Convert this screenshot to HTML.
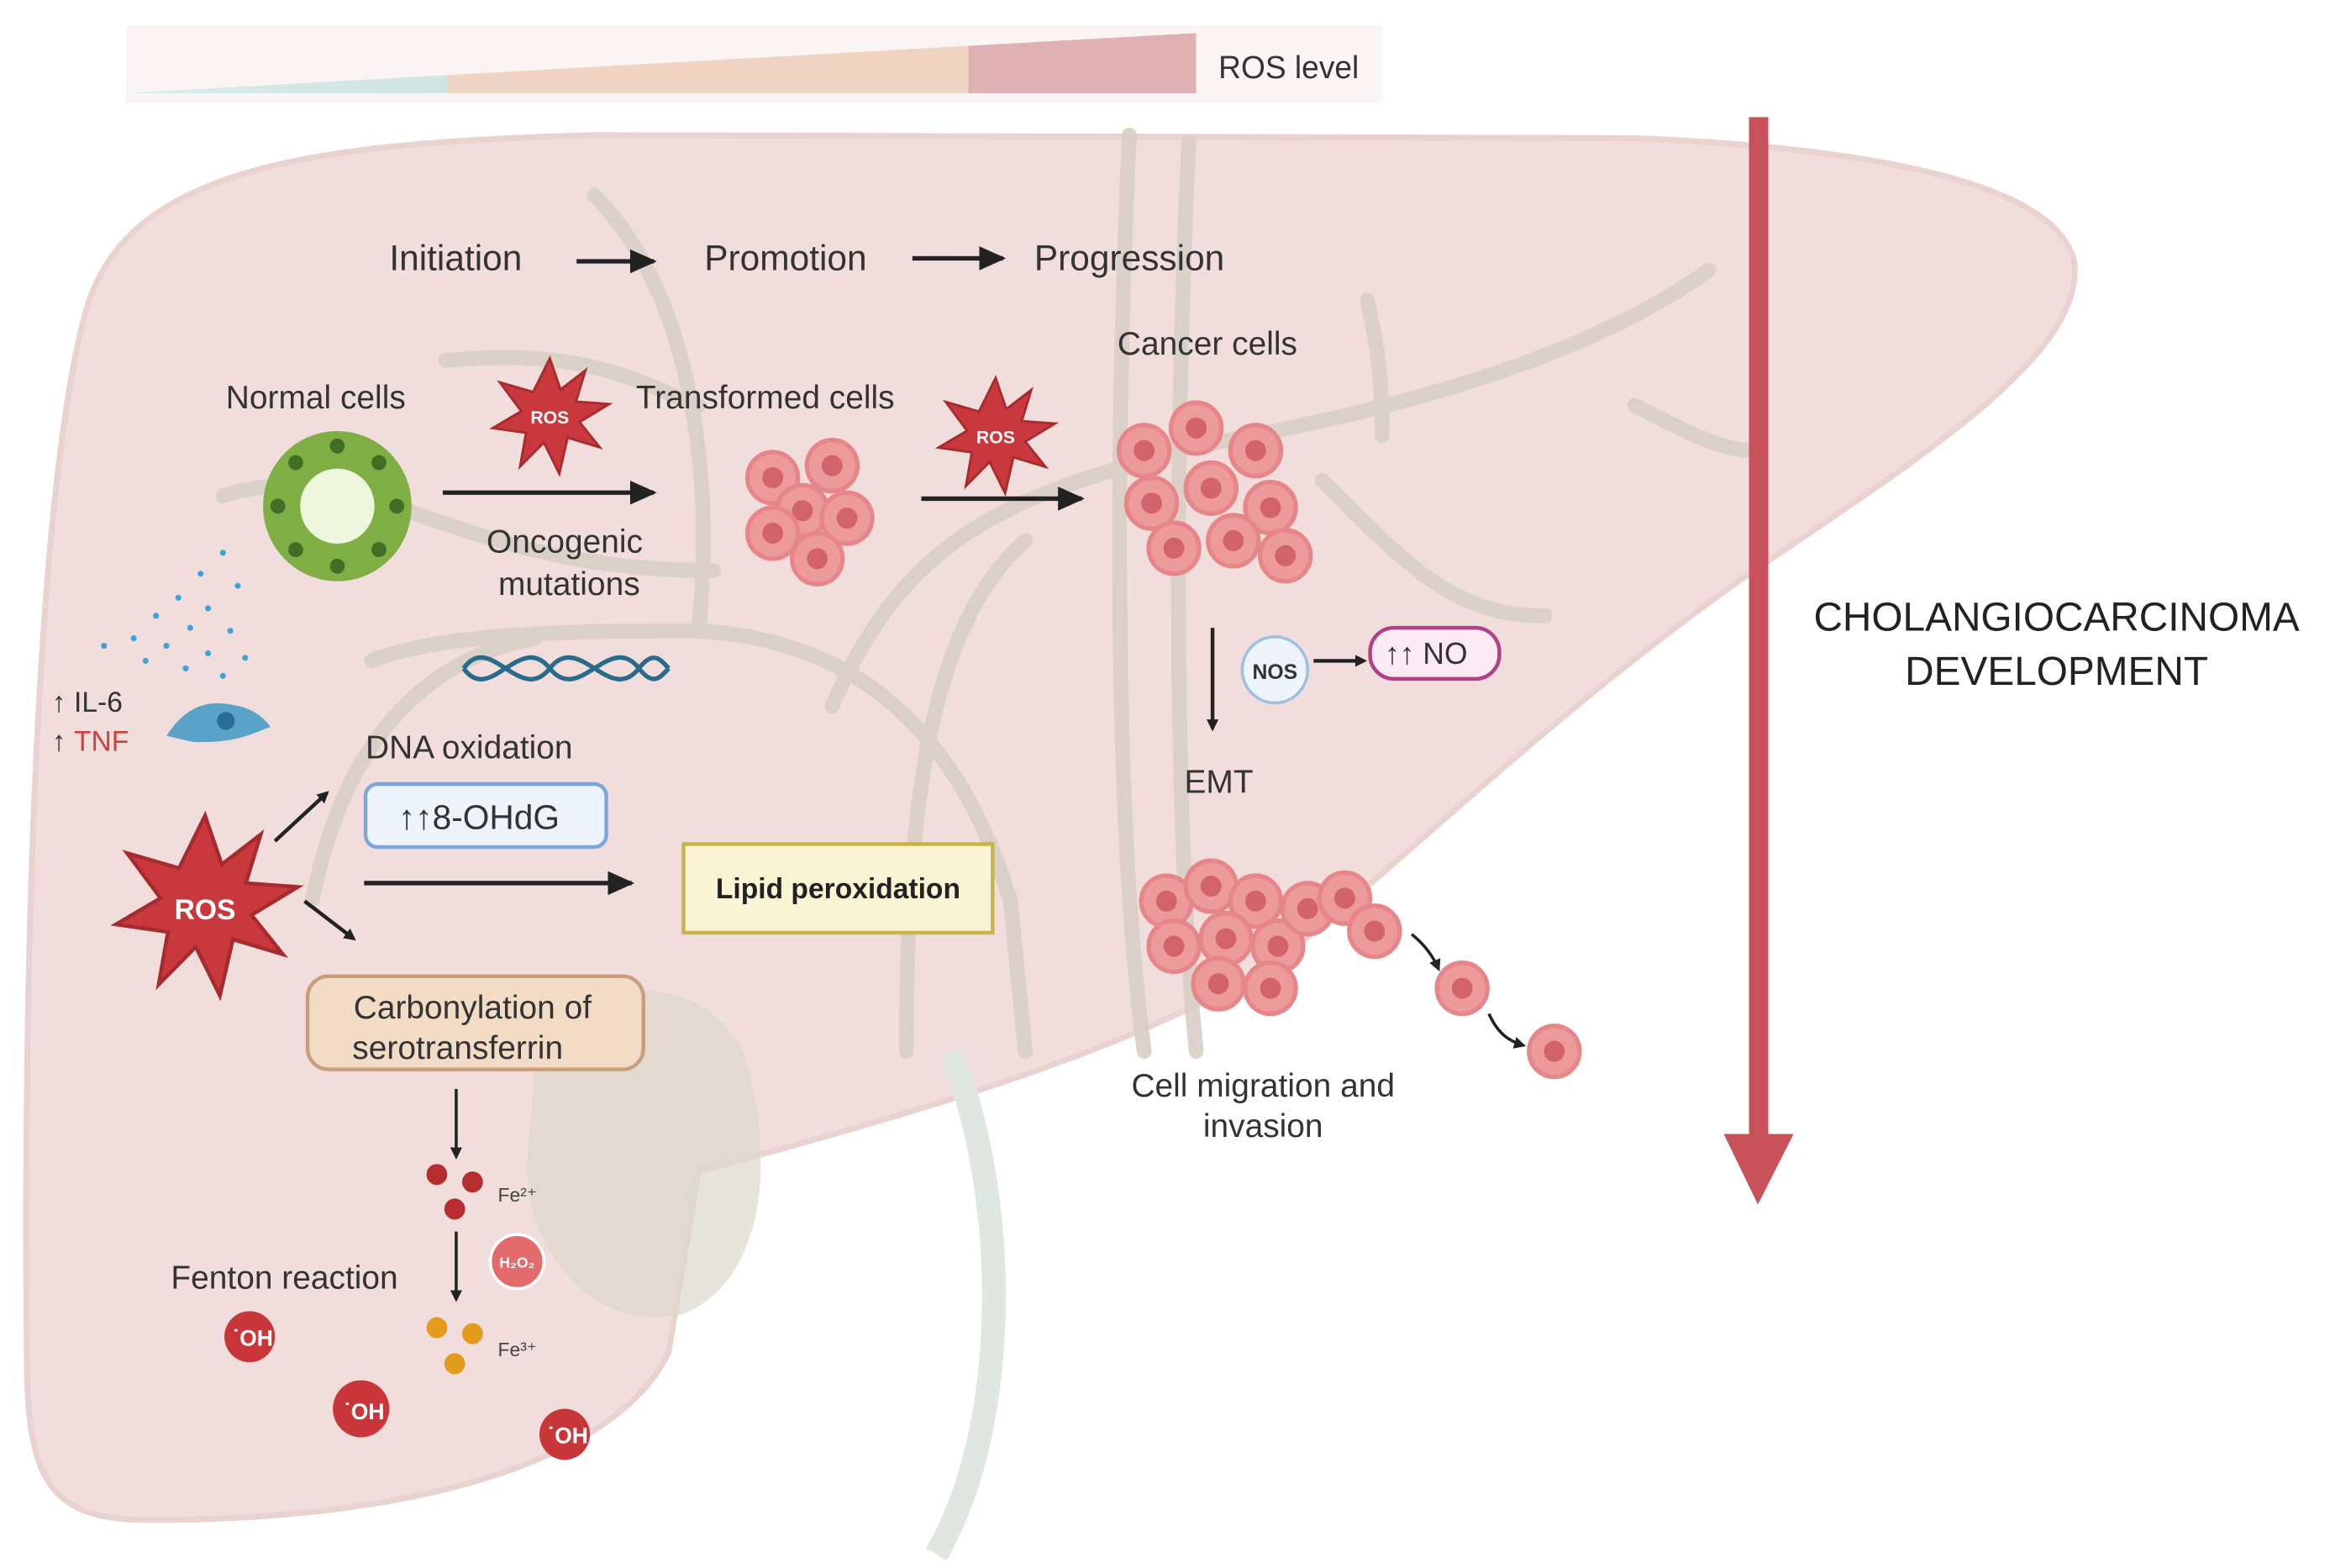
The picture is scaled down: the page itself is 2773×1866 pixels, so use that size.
<!DOCTYPE html>
<html><head><meta charset="utf-8"><style>
html,body{margin:0;padding:0;background:#fff;}
svg{display:block;}
text{font-family:"Liberation Sans",sans-serif;}
</style></head><body>
<svg width="2773" height="1866" viewBox="0 0 1568 1044" preserveAspectRatio="none" xmlns="http://www.w3.org/2000/svg">
<defs>
<linearGradient id="bar" x1="0" x2="1" y1="0" y2="0">
<stop offset="0" stop-color="#d8ecea"/><stop offset="0.3" stop-color="#cfe5e2"/>
<stop offset="0.3" stop-color="#efd3c3"/><stop offset="0.787" stop-color="#efd3c3"/>
<stop offset="0.787" stop-color="#dfb1b3"/><stop offset="1" stop-color="#dfb1b3"/>
</linearGradient>
<marker id="ah" markerWidth="8" markerHeight="8" refX="6" refY="4" orient="auto" markerUnits="userSpaceOnUse">
<path d="M0,0 L8,4 L0,8 Z" fill="#222"/></marker>
<marker id="ahb" markerWidth="18" markerHeight="16" refX="16" refY="8" orient="auto" markerUnits="userSpaceOnUse">
<path d="M0,0 L18,8 L0,16 Z" fill="#222"/></marker>
<g id="star"><polygon points="0,-48 9,-22 30,-38 22,-12 50,-10 25,5 42,26 15,18 8,48 -5,22 -25,42 -20,14 -48,10 -24,-4 -42,-28 -14,-20" fill="#c8383c" stroke="#a52b2f" stroke-width="2"/></g>
<g id="cell"><circle r="17" fill="#ec9a9c" stroke="#e68688" stroke-width="3"/><circle r="7" fill="#d2636a"/></g>
</defs>
<rect width="1568" height="1044" fill="#fff"/>
<!-- ROS bar -->
<rect x="85" y="17" width="845" height="52" fill="#faf5f4"/>
<polygon points="85,62 805,22 805,62" fill="url(#bar)"/>
<text x="820" y="52" font-size="21" fill="#333">ROS level</text>
<!-- liver -->
<path d="M60,200 C90,115 200,95 400,90 L1100,92 C1250,98 1385,120 1396,175 C1402,235 1300,300 1180,380 C1050,470 960,560 860,640 C760,700 620,740 470,780 L450,900 C420,965 300,1012 100,1012 C32,1012 18,985 18,900 C15,600 28,300 60,200 Z" fill="#f1dedc" stroke="#ead2cf" stroke-width="4"/>
<!-- gallbladder -->
<path d="M360,710 C380,650 470,640 500,700 C520,760 520,850 460,875 C400,890 350,830 355,770 Z" fill="#dcd8cc" opacity="0.7"/>
<path d="M640,700 C680,800 680,950 630,1035" fill="none" stroke="#dfe7e0" stroke-width="16"/>
<!-- vessels -->
<g fill="none" stroke="#d9cfc6" stroke-width="10" stroke-linecap="round" opacity="0.9">
<path d="M250,440 C300,420 400,420 470,420 C560,425 640,470 680,600 L690,700"/>
<path d="M210,600 C230,500 280,440 360,425"/>
<path d="M470,420 C480,330 470,200 400,130"/>
<path d="M480,380 C300,380 250,300 150,330"/>
<path d="M560,470 C600,380 650,340 760,310"/>
<path d="M610,700 C610,560 620,420 690,360"/>
<path d="M760,90 C750,300 750,550 770,700"/>
<path d="M800,95 C790,300 790,550 805,700"/>
<path d="M790,300 C900,280 1050,250 1150,180"/>
<path d="M1100,270 C1140,290 1160,300 1180,300"/>
<path d="M890,320 C950,380 980,410 1040,410"/>
<path d="M920,200 C930,240 930,270 930,290"/>
<path d="M300,240 C400,230 440,260 470,270"/>
</g>
<!-- top flow -->
<text x="262" y="180" font-size="24" fill="#333">Initiation</text>
<line x1="388" y1="174" x2="440" y2="174" stroke="#222" stroke-width="3" marker-end="url(#ahb)"/>
<text x="474" y="180" font-size="24" fill="#333">Promotion</text>
<line x1="614" y1="172" x2="675" y2="172" stroke="#222" stroke-width="3" marker-end="url(#ahb)"/>
<text x="696" y="180" font-size="24" fill="#333">Progression</text>
<text x="152" y="272" font-size="22" fill="#333">Normal cells</text>
<text x="428" y="272" font-size="22" fill="#333">Transformed cells</text>
<text x="752" y="236" font-size="22" fill="#333">Cancer cells</text>
<!-- normal cell ring -->
<circle cx="227" cy="337" r="50" fill="#7fae45"/>
<g fill="#3f6e24">
<circle cx="227" cy="297" r="5"/><circle cx="255" cy="308" r="5"/><circle cx="267" cy="337" r="5"/><circle cx="255" cy="366" r="5"/><circle cx="227" cy="377" r="5"/><circle cx="199" cy="366" r="5"/><circle cx="187" cy="337" r="5"/><circle cx="199" cy="308" r="5"/>
</g>
<circle cx="227" cy="337" r="25" fill="#eef5dd"/>
<use href="#star" transform="translate(370,277) scale(0.8)"/>
<text x="370" y="282" font-size="12" font-weight="bold" fill="#fff" text-anchor="middle">ROS</text>
<use href="#star" transform="translate(670,290) scale(0.8)"/>
<text x="670" y="295" font-size="12" font-weight="bold" fill="#fff" text-anchor="middle">ROS</text>
<line x1="298" y1="328" x2="440" y2="328" stroke="#222" stroke-width="3" marker-end="url(#ahb)"/>
<line x1="620" y1="332" x2="728" y2="332" stroke="#222" stroke-width="3" marker-end="url(#ahb)"/>
<text x="380" y="368" font-size="22" fill="#333" text-anchor="middle">Oncogenic</text>
<text x="383" y="396" font-size="22" fill="#333" text-anchor="middle">mutations</text>
<!-- transformed cells -->
<g><use href="#cell" x="520" y="318"/><use href="#cell" x="560" y="310"/><use href="#cell" x="540" y="340"/><use href="#cell" x="570" y="345"/><use href="#cell" x="520" y="355"/><use href="#cell" x="550" y="372"/></g>
<!-- cancer cells -->
<g><use href="#cell" x="770" y="300" transform="scale(1)"/><use href="#cell" x="805" y="285"/><use href="#cell" x="845" y="300"/><use href="#cell" x="775" y="335"/><use href="#cell" x="815" y="325"/><use href="#cell" x="855" y="338"/><use href="#cell" x="790" y="365"/><use href="#cell" x="830" y="360"/><use href="#cell" x="865" y="370"/></g>
<!-- dna -->
<path d="M312,445 C330,420 350,470 370,445 C390,420 410,470 430,445 C440,432 445,440 450,445" fill="none" stroke="#2a6a8a" stroke-width="3"/>
<path d="M312,445 C330,470 350,420 370,445 C390,470 410,420 430,445 C440,458 445,450 450,445" fill="none" stroke="#2a6a8a" stroke-width="3"/>
<!-- dots & cell -->
<g fill="#3ea2d8">
<circle cx="150" cy="368" r="2"/><circle cx="135" cy="382" r="2"/><circle cx="160" cy="390" r="2"/><circle cx="120" cy="398" r="2"/><circle cx="140" cy="405" r="2"/><circle cx="105" cy="410" r="2"/><circle cx="128" cy="418" r="2"/><circle cx="155" cy="420" r="2"/><circle cx="90" cy="425" r="2"/><circle cx="112" cy="430" r="2"/><circle cx="70" cy="430" r="2"/><circle cx="140" cy="435" r="2"/><circle cx="165" cy="438" r="2"/><circle cx="98" cy="440" r="2"/><circle cx="125" cy="445" r="2"/><circle cx="150" cy="450" r="2"/>
</g>
<path d="M112,490 C125,470 140,465 160,470 C170,472 178,478 182,484 C170,488 160,495 130,494 Z" fill="#5aa3c8"/>
<circle cx="152" cy="480" r="6" fill="#2a6d95"/>
<text x="35" y="474" font-size="19" fill="#333">↑ IL-6</text>
<text x="35" y="500" font-size="19" fill="#333">↑ <tspan fill="#d0413e">TNF</tspan></text>
<!-- big ROS -->
<use href="#star" transform="translate(138,603) scale(1.25)"/>
<text x="138" y="612" font-size="19" font-weight="bold" fill="#fff" text-anchor="middle">ROS</text>
<line x1="185" y1="560" x2="220" y2="528" stroke="#222" stroke-width="2.5" marker-end="url(#ah)"/>
<line x1="205" y1="600" x2="238" y2="625" stroke="#222" stroke-width="2.5" marker-end="url(#ah)"/>
<text x="246" y="505" font-size="22" fill="#333">DNA oxidation</text>
<rect x="246" y="522" width="162" height="42" rx="8" fill="#eef4fb" stroke="#7aa6dd" stroke-width="2.5"/>
<text x="268" y="552" font-size="23" fill="#333">↑↑8-OHdG</text>
<line x1="245" y1="588" x2="425" y2="588" stroke="#222" stroke-width="3" marker-end="url(#ahb)"/>
<rect x="460" y="562" width="208" height="59" fill="#f8f4d4" stroke="#c8b24a" stroke-width="2.5"/>
<text x="564" y="598" font-size="19" font-weight="bold" fill="#222" text-anchor="middle">Lipid peroxidation</text>
<rect x="207" y="650" width="226" height="62" rx="14" fill="#f2dcc6" stroke="#c89e7e" stroke-width="2.5"/>
<text x="318" y="678" font-size="22" fill="#333" text-anchor="middle">Carbonylation of</text>
<text x="308" y="705" font-size="22" fill="#333" text-anchor="middle">serotransferrin</text>
<line x1="307" y1="725" x2="307" y2="770" stroke="#222" stroke-width="2" marker-end="url(#ah)"/>
<circle cx="294" cy="782" r="7" fill="#b52d2f"/><circle cx="318" cy="787" r="7" fill="#b52d2f"/><circle cx="306" cy="805" r="7" fill="#b52d2f"/>
<text x="335" y="800" font-size="13" fill="#444">Fe²⁺</text>
<line x1="307" y1="820" x2="307" y2="865" stroke="#222" stroke-width="2" marker-end="url(#ah)"/>
<circle cx="348" cy="840" r="18" fill="#e46b6b" stroke="#fff" stroke-width="2"/>
<text x="348" y="844" font-size="10" font-weight="bold" fill="#fff" text-anchor="middle">H₂O₂</text>
<circle cx="294" cy="884" r="7" fill="#e39b1e"/><circle cx="318" cy="888" r="7" fill="#e39b1e"/><circle cx="306" cy="908" r="7" fill="#e39b1e"/>
<text x="335" y="903" font-size="13" fill="#444">Fe³⁺</text>
<text x="115" y="858" font-size="22" fill="#333">Fenton reaction</text>
<g font-size="15" font-weight="bold" fill="#fff" text-anchor="middle">
<circle cx="168" cy="890" r="17" fill="#c8363a"/><text x="170" y="896">˙OH</text>
<circle cx="243" cy="938" r="19" fill="#c8363a"/><text x="245" y="945">˙OH</text>
<circle cx="380" cy="955" r="17" fill="#c8363a"/><text x="382" y="961">˙OH</text>
</g>
<!-- EMT side -->
<line x1="816" y1="418" x2="816" y2="485" stroke="#222" stroke-width="2.5" marker-end="url(#ah)"/>
<circle cx="858" cy="446" r="22" fill="#eef4fb" stroke="#9cc0e0" stroke-width="2"/>
<text x="858" y="452" font-size="14" font-weight="bold" fill="#333" text-anchor="middle">NOS</text>
<line x1="884" y1="440" x2="918" y2="440" stroke="#222" stroke-width="2.5" marker-end="url(#ah)"/>
<rect x="922" y="418" width="87" height="34" rx="16" fill="#fbe9f3" stroke="#b0408a" stroke-width="2.5"/>
<text x="932" y="442" font-size="20" fill="#333">↑↑ NO</text>
<text x="797" y="528" font-size="22" fill="#333">EMT</text>
<g><use href="#cell" x="785" y="600"/><use href="#cell" x="815" y="590"/><use href="#cell" x="845" y="600"/><use href="#cell" x="790" y="630"/><use href="#cell" x="825" y="625"/><use href="#cell" x="860" y="630"/><use href="#cell" x="880" y="605"/><use href="#cell" x="905" y="598"/><use href="#cell" x="925" y="620"/><use href="#cell" x="820" y="655"/><use href="#cell" x="855" y="658"/></g>
<use href="#cell" x="984" y="658"/><use href="#cell" x="1046" y="700"/>
<path d="M950,622 C960,630 965,638 968,645" fill="none" stroke="#222" stroke-width="2" marker-end="url(#ah)"/>
<path d="M1002,675 C1008,688 1015,693 1025,696" fill="none" stroke="#222" stroke-width="2" marker-end="url(#ah)"/>
<text x="850" y="730" font-size="22" fill="#333" text-anchor="middle">Cell migration and</text>
<text x="850" y="757" font-size="22" fill="#333" text-anchor="middle">invasion</text>
<!-- big arrow -->
<rect x="1177" y="78" width="13" height="690" fill="#c9525a"/>
<polygon points="1160,755 1207,755 1183,802" fill="#c9525a"/>
<text x="1384" y="420" font-size="27" fill="#222" text-anchor="middle">CHOLANGIOCARCINOMA</text>
<text x="1384" y="456" font-size="27" fill="#222" text-anchor="middle">DEVELOPMENT</text>
</svg>
</body></html>
